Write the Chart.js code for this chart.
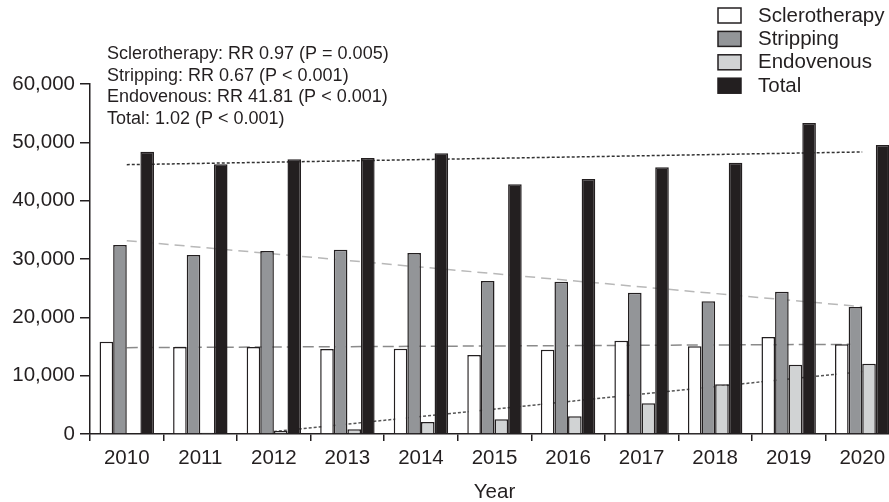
<!DOCTYPE html>
<html>
<head>
<meta charset="utf-8">
<script src="https://cdn.jsdelivr.net/npm/chart.js@4.4.0/dist/chart.umd.min.js"></script>
<style>
  html, body { margin: 0; padding: 0; background: #fff; overflow: hidden; }
  #wrap { width: 889px; height: 502px; overflow: hidden; }
</style>
</head>
<body>
<div id="wrap"><canvas id="chartAnnuel" width="899" height="502"></canvas></div>
<script>
// Nombre de procédures par année
var years = ['2010', '2011', '2012', '2013', '2014', '2015', '2016', '2017', '2018', '2019', '2020'];
var sclerotherapy = [15820, 14920, 14920, 14570, 14620, 13540, 14450, 16000, 15030, 16630, 15380];
var stripping = [32400, 30690, 31370, 31600, 31030, 26230, 26110, 24220, 22750, 24400, 21770];
var endovenous = [0, 220, 510, 800, 2060, 2520, 3030, 5260, 8520, 11880, 12050];
var total = [48400, 46240, 47090, 47320, 48120, 42810, 43720, 45720, 46510, 53320, 49550];

// Droites de tendance : valeur de début et de fin seulement, la ligne relie les deux
var trendSclerotherapy = [14800, null, null, null, null, null, null, null, null, null, 15380];
var trendStripping = [33140, null, null, null, null, null, null, null, null, null, 21820];
var trendEndovenous = [null, null, 420, null, null, null, null, null, null, null, 10700];
var trendTotal = [46170, null, null, null, null, null, null, null, null, null, 48350];

var yMax = 60000;
var yStep = 10000;

var statLines = [
  'Sclerotherapy: RR 0.97 (P = 0.005)',
  'Stripping: RR 0.67 (P < 0.001)',
  'Endovenous: RR 41.81 (P < 0.001)',
  'Total: 1.02 (P < 0.001)'
];

var ink = '#231f20';
var fontFamily = '"Liberation Sans", Arial, Helvetica, sans-serif';
Chart.defaults.font.family = fontFamily;
Chart.defaults.color = ink;

// Légende en haut à droite (barres seulement)
var legendBox = {
  id: 'legendBox',
  afterDraw: function(chart) {
    var ctx = chart.ctx;
    ctx.save();
    ctx.font = '20.5px ' + fontFamily;
    ctx.textBaseline = 'middle';
    var row = 0;
    chart.data.datasets.forEach(function(ds) {
      if (ds.type === 'line') return;
      var top = 8 + row * 23.4;
      ctx.fillStyle = ds.backgroundColor;
      ctx.fillRect(718, top, 23, 15);
      ctx.lineWidth = 1.5;
      ctx.strokeStyle = ink;
      ctx.strokeRect(718, top, 23, 15);
      ctx.fillStyle = ink;
      ctx.fillText(ds.label, 758, top + 8);
      row++;
    });
    ctx.restore();
  }
};

// Texte des rapports de risque
var statText = {
  id: 'statText',
  afterDraw: function(chart) {
    var ctx = chart.ctx;
    ctx.save();
    ctx.font = '18px ' + fontFamily;
    ctx.textBaseline = 'middle';
    ctx.fillStyle = ink;
    statLines.forEach(function(line, i) {
      ctx.fillText(line, 107, 54 + i * 21.7);
    });
    ctx.restore();
  }
};

function trendLine(label, data, color, dash) {
  return {
    type: 'line',
    label: label,
    data: data,
    borderColor: color,
    borderWidth: 1.5,
    borderDash: dash,
    pointRadius: 0,
    fill: false,
    spanGaps: true,
    order: 2
  };
}

function barSet(label, data, color) {
  return {
    label: label,
    data: data,
    backgroundColor: color,
    borderColor: ink,
    borderWidth: 1.5,
    borderSkipped: 'start',
    categoryPercentage: 0.74,
    barPercentage: 1.0,
    order: 1
  };
}

var ctx = document.getElementById('chartAnnuel').getContext('2d');
var chartAnnuel = new Chart(ctx, {
  type: 'bar',
  data: {
    labels: years,
    datasets: [
      barSet('Sclerotherapy', sclerotherapy, '#ffffff'),
      barSet('Stripping', stripping, '#939598'),
      barSet('Endovenous', endovenous, '#d1d3d4'),
      barSet('Total', total, ink),
      trendLine('Sclerotherapy trend', trendSclerotherapy, '#8a8a8a', [11, 5]),
      trendLine('Stripping trend', trendStripping, '#b8b8b8', [10, 6]),
      trendLine('Endovenous trend', trendEndovenous, '#555555', [3, 2]),
      trendLine('Total trend', trendTotal, '#333333', [3, 2])
    ]
  },
  options: {
    responsive: false,
    animation: false,
    layout: { padding: { top: 84, left: 0, right: 0, bottom: 0 } },
    plugins: {
      legend: { display: false },
      tooltip: { enabled: false }
    },
    scales: {
      x: {
        offset: true,
        grid: {
          offset: true,
          drawOnChartArea: false,
          drawTicks: true,
          tickLength: 7,
          color: ink,
          lineWidth: 1.5
        },
        border: { color: ink, width: 1.5 },
        ticks: { font: { size: 20.5 }, padding: 5, maxRotation: 0, autoSkip: false },
        title: { display: true, text: 'Year', font: { size: 20.5 }, padding: { top: 4, bottom: -3 } },
        afterFit: function(scale) { scale.height = 68; }
      },
      y: {
        min: 0,
        max: yMax,
        grid: {
          drawOnChartArea: false,
          drawTicks: true,
          tickLength: 10,
          color: ink,
          lineWidth: 1.5
        },
        border: { color: ink, width: 1.5 },
        ticks: {
          stepSize: yStep,
          font: { size: 20.5 },
          padding: 5,
          callback: function(v) { return v.toLocaleString('en-US'); }
        },
        afterFit: function(scale) { scale.width = 90; }
      }
    }
  },
  plugins: [legendBox, statText]
});
</script>
</body>
</html>
